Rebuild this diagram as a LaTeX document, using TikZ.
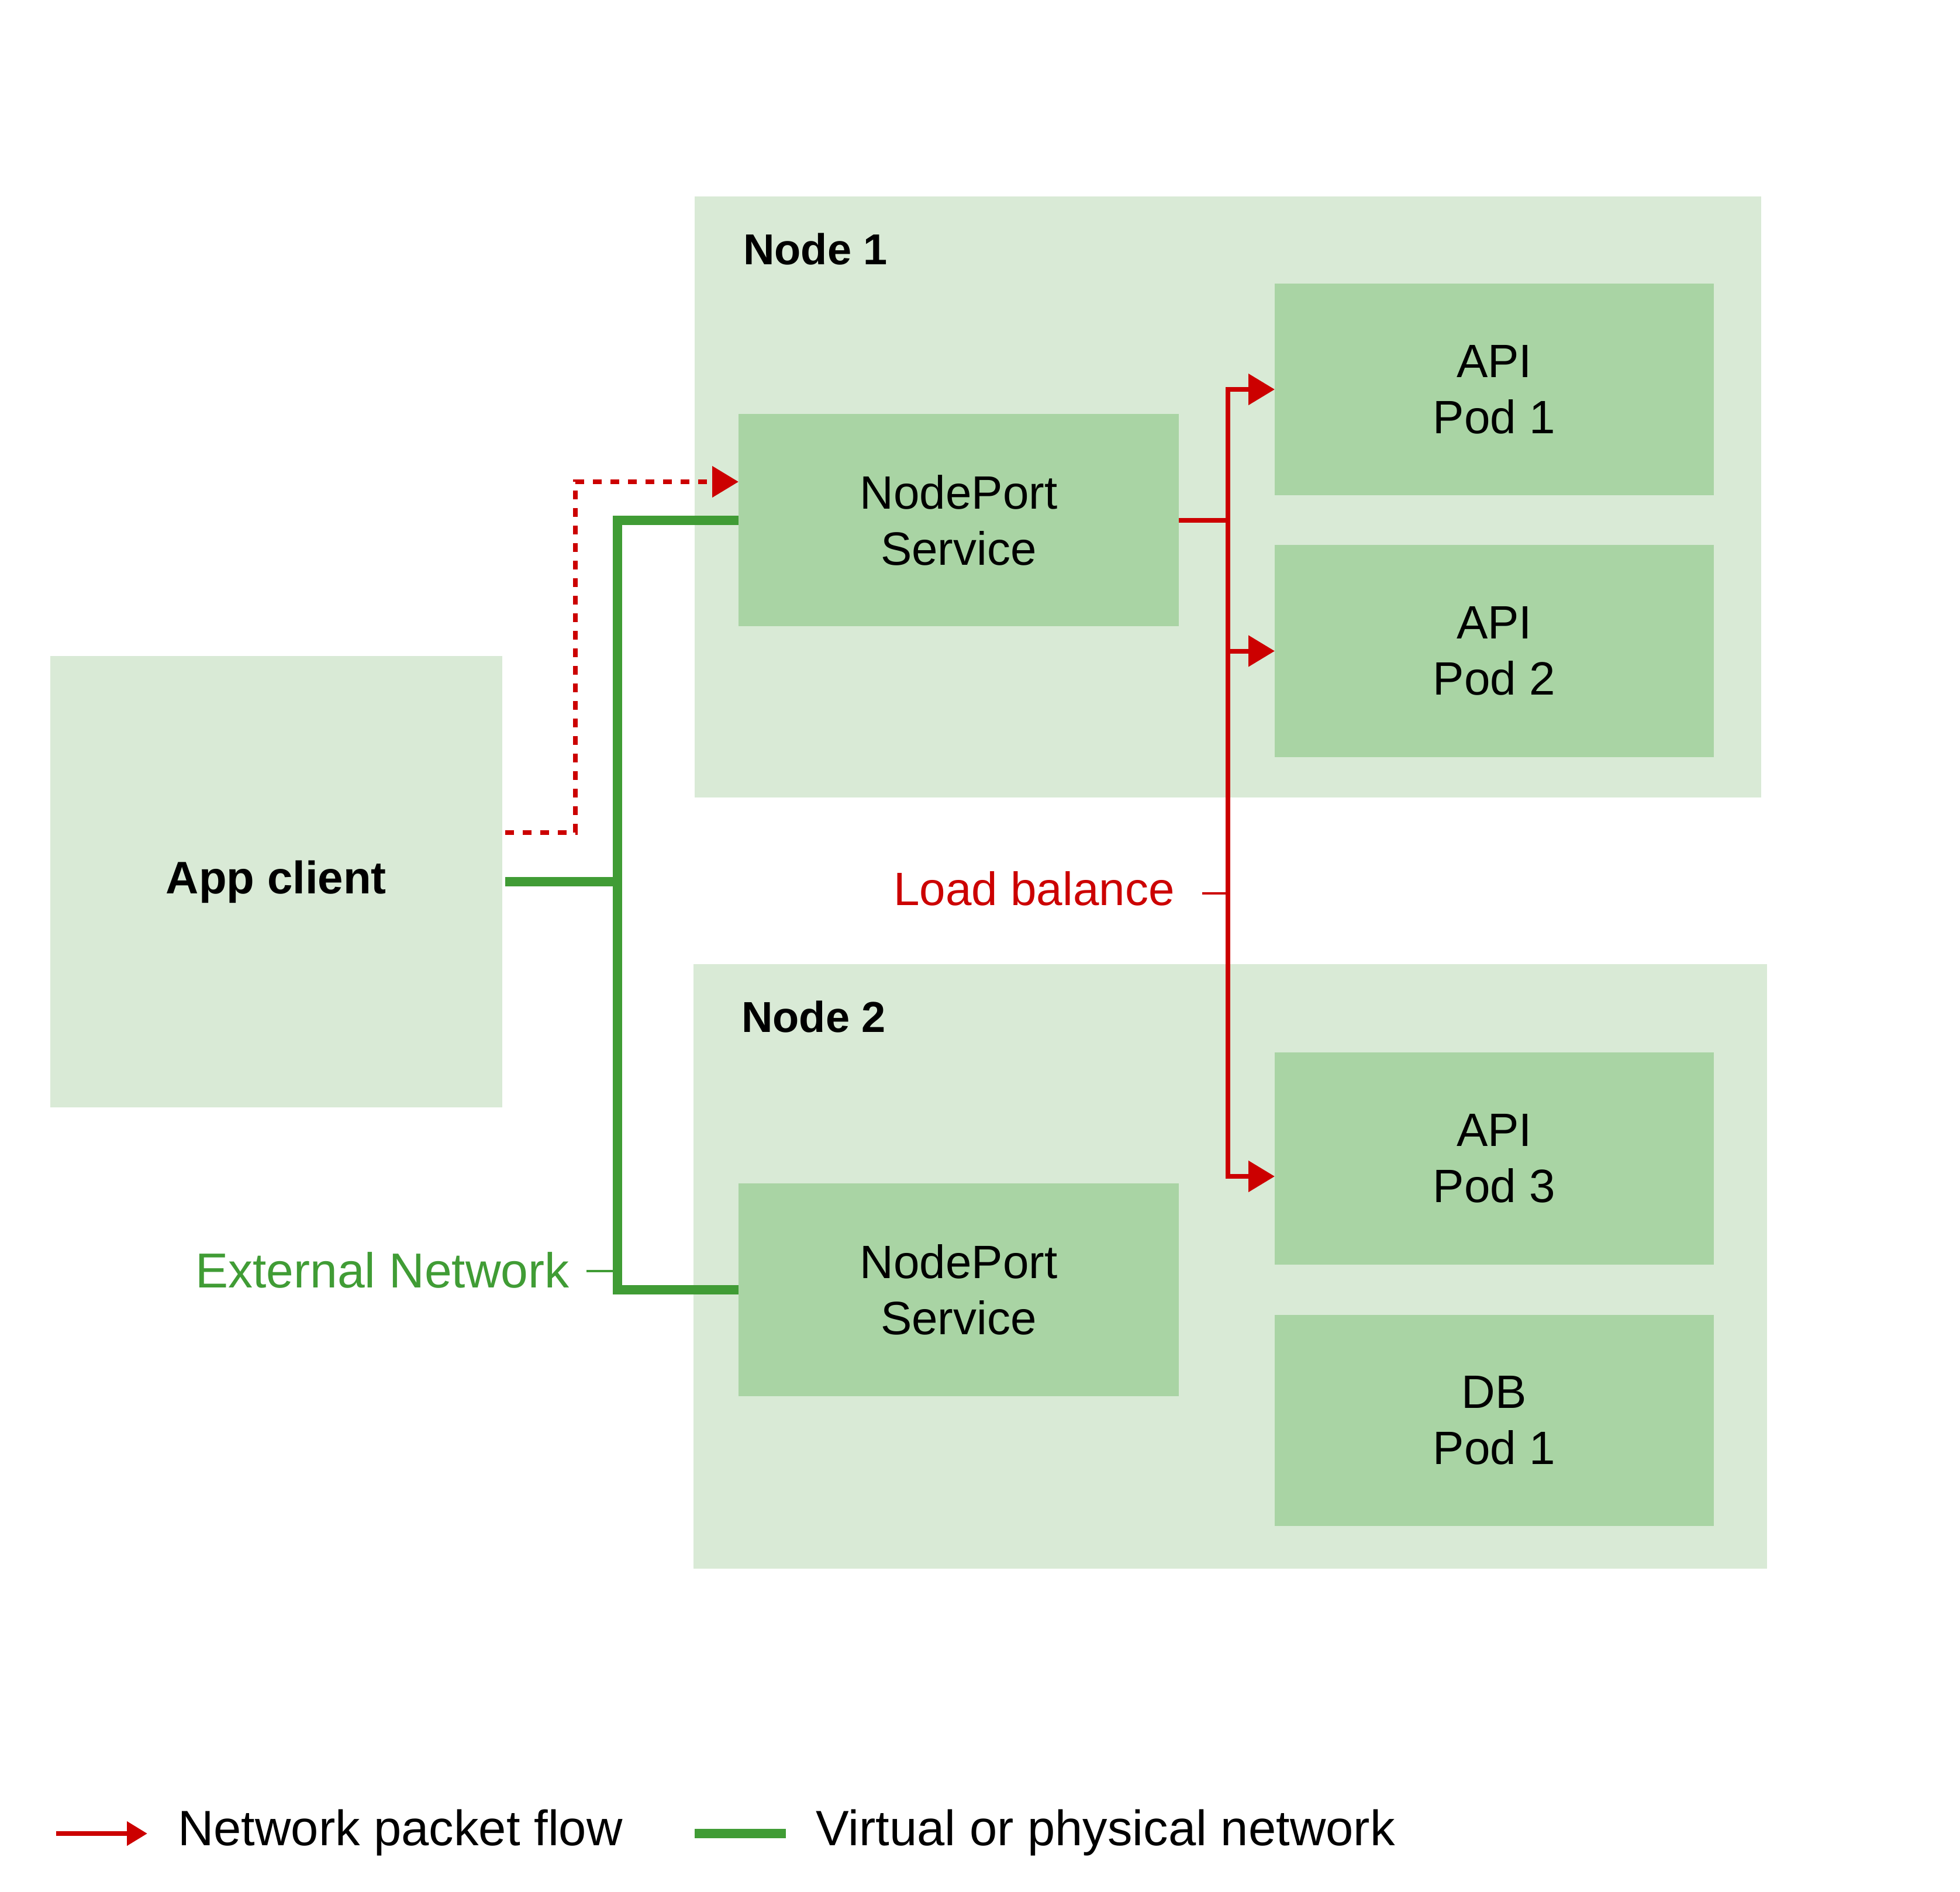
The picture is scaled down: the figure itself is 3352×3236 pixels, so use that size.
\documentclass[tikz,border=0pt]{standalone}
\usepackage{fontspec}
\setmainfont{Liberation Sans}
\usetikzlibrary{arrows.meta,calc}
\definecolor{nodebg}{RGB}{217,234,214}
\definecolor{podbg}{RGB}{169,212,164}
\definecolor{rhred}{RGB}{204,0,0}
\definecolor{rhgreen}{RGB}{64,156,53}
\begin{document}
\begin{tikzpicture}[x=1pt,y=-1pt,
  hostbox/.style={fill=nodebg, draw=none, inner sep=0pt, outer sep=0pt},
  podbox/.style={fill=podbg, draw=none, inner sep=0pt, outer sep=0pt, align=center,
    font=\fontsize{80}{96}\selectfont},
  boldlbl/.style={inner sep=0pt, anchor=base west, font=\fontsize{74}{90}\selectfont\bfseries},
  txtlbl/.style={inner sep=0pt, font=\fontsize{80}{96}\selectfont},
  legendlbl/.style={inner sep=0pt, anchor=base west, font=\fontsize{85}{100}\selectfont},
  gnet/.style={draw=rhgreen, line width=16pt},
  rflow/.style={draw=rhred, line width=8pt},
  rtip/.style={-{Triangle[length=45pt,width=52pt]}},
  rdash/.style={dash pattern=on 15pt off 15pt},
  ticker/.style={line width=3.5pt}
]
\useasboundingbox (0,0) rectangle (3352,3236);

% hosts
\node[hostbox, minimum width=1824pt, minimum height=1028pt] (host1) at (2100,850) {};
\node[hostbox, minimum width=1836pt, minimum height=1034pt] (host2) at (2104,2166) {};
\node[hostbox, minimum width=773pt, minimum height=772pt, align=center,
  font=\fontsize{78}{94}\selectfont\bfseries] (app) at (472.5,1508) {App client};

\node[boldlbl] (n1lbl) at (1271,452) {Node 1};
\node[boldlbl] (n2lbl) at (1268,1765) {Node 2};

% inner boxes
\node[podbox, minimum width=753pt, minimum height=363pt] (svc1) at (1639.5,889.5) {NodePort\\Service};
\node[podbox, minimum width=753pt, minimum height=364pt] (svc2) at (1639.5,2206) {NodePort\\Service};
\node[podbox, minimum width=751pt, minimum height=362pt] (pod1) at (2555.5,666) {API\\Pod 1};
\node[podbox, minimum width=751pt, minimum height=363pt] (pod2) at (2555.5,1113.5) {API\\Pod 2};
\node[podbox, minimum width=751pt, minimum height=363pt] (pod3) at (2555.5,1981.5) {API\\Pod 3};
\node[podbox, minimum width=751pt, minimum height=361pt] (db1) at (2555.5,2429.5) {DB\\Pod 1};

% green network
\coordinate (gj) at (1056,1508);
\draw[gnet] ($(app.east)+(5,0)$) -- (gj);
\draw[gnet] (svc1.west) -| (gj) |- (svc2.west);

% red dashed packet flow
\coordinate (ds) at ($(app.east)+(5,-84)$);
\coordinate (dc) at (984,824);
\draw[rflow, rdash, rtip] (ds) -| (dc) -- ($(svc1.west)+(0,-65.5)$);

% load balancing bus
\coordinate (bus) at (2100,889.5);
\draw[rflow] (svc1.east) -- (bus);
\draw[rflow, rtip] (bus) |- (pod1.west);
\draw[rflow, rtip] (bus) |- (pod2.west);
\draw[rflow, rtip] (bus) |- ($(pod3.west)+(0,30.5)$);

% labels
\node[txtlbl, anchor=base east, text=rhred] (lb) at (2009,1548) {Load balance};
\coordinate (lbj) at (2100,1528);
\coordinate (lbt) at (2056,1528);
\draw[rhred, ticker] (lbt) -- (lbj);

\node[txtlbl, anchor=base east, text=rhgreen, font=\fontsize{84}{100}\selectfont] (ext) at (974,2202) {External Network};
\coordinate (ent) at (1003,2174);
\coordinate (enj) at (1056,2174);
\draw[rhgreen, ticker] (ent) -- (enj);

% legend
\coordinate (la1) at (96,3136);
\coordinate (la2) at (252,3136);
\draw[rflow, -{Triangle[length=35pt,width=40pt]}] (la1) -- (la2);
\node[legendlbl] (lg1) at (304,3156) {Network packet flow};
\coordinate (lg1a) at (1188,3136);
\coordinate (lg1b) at (1344,3136);
\draw[gnet] (lg1a) -- (lg1b);
\node[legendlbl] (lg2) at (1395,3156) {Virtual or physical network};
\end{tikzpicture}
\end{document}
